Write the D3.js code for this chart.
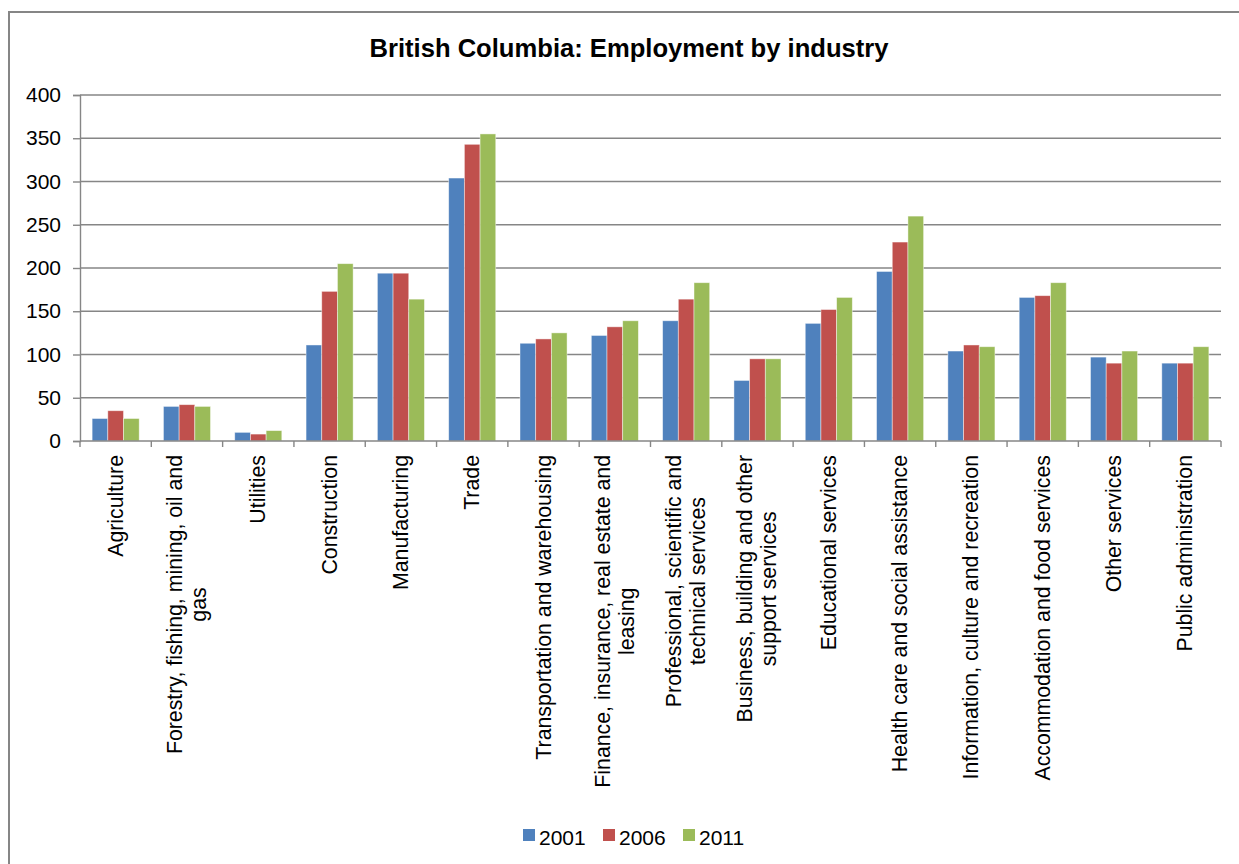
<!DOCTYPE html>
<html>
<head>
<meta charset="utf-8">
<script src="https://cdn.jsdelivr.net/npm/d3@7"></script>
<style>
  html, body { margin: 0; padding: 0; background: #fff; }
  svg { display: block; font-family: "Liberation Sans", Arial, sans-serif; }
</style>
</head>
<body>
<svg id="chart" width="1239" height="864"></svg>
<script>
// Industry categories (each entry is the list of wrapped label lines)
const categories = [
  ["Agriculture"],
  ["Forestry, fishing, mining, oil and", "gas"],
  ["Utilities"],
  ["Construction"],
  ["Manufacturing"],
  ["Trade"],
  ["Transportation and warehousing"],
  ["Finance, insurance, real estate and", "leasing"],
  ["Professional, scientific and", "technical services"],
  ["Business, building and other", "support services"],
  ["Educational services"],
  ["Health care and social assistance"],
  ["Information, culture and recreation"],
  ["Accommodation and food services"],
  ["Other services"],
  ["Public administration"]
];

const years = ["2001", "2006", "2011"];

// Employment (thousands) by year
const values2001 = [26, 40, 10, 111, 194, 304, 113, 122, 139, 70, 136, 196, 104, 166, 97, 90];
const values2006 = [35, 42, 8, 173, 194, 343, 118, 132, 164, 95, 152, 230, 111, 168, 90, 90];
const values2011 = [26, 40, 12, 205, 164, 355, 125, 139, 183, 95, 166, 260, 109, 183, 104, 109];

const yTicks = [0, 50, 100, 150, 200, 250, 300, 350, 400];
const colors = ["#4F81BD", "#C0504D", "#9BBB59"];

const series = [values2001, values2006, values2011];
const svg = d3.select("#chart");
const gridColor = "#868686";

const plotLeft = 80, plotRight = 1221, plotTop = 95, plotBottom = 441;

// Outer chart frame
svg.append("rect")
  .attr("x", 9).attr("y", 12)
  .attr("width", 1260).attr("height", 900)
  .attr("fill", "none").attr("stroke", gridColor).attr("stroke-width", 2);

// Title
svg.append("text")
  .attr("x", 629).attr("y", 57)
  .attr("text-anchor", "middle")
  .attr("font-size", 25.6).attr("font-weight", "bold")
  .attr("fill", "#000")
  .text("British Columbia: Employment by industry");

const x = d3.scaleBand()
  .domain(d3.range(categories.length))
  .range([plotLeft, plotRight])
  .paddingInner(0).paddingOuter(0);

const inner = d3.scaleBand()
  .domain(d3.range(years.length))
  .range([0, x.bandwidth() * 0.66]);

const y = d3.scaleLinear().domain([0, 400]).range([plotBottom, plotTop]);

// Horizontal gridlines
svg.append("g")
  .selectAll("line")
  .data(yTicks.filter(d => d > 0))
  .join("line")
  .attr("x1", plotLeft).attr("x2", plotRight)
  .attr("y1", d => y(d)).attr("y2", d => y(d))
  .attr("stroke", gridColor).attr("stroke-width", 1.4);

// Y axis
const yAxis = svg.append("g")
  .attr("transform", `translate(${plotLeft},0)`)
  .call(d3.axisLeft(y).tickValues(yTicks).tickSize(7).tickPadding(12).tickFormat(d3.format("d")));
yAxis.select(".domain").attr("stroke", gridColor).attr("stroke-width", 1.4);
yAxis.selectAll(".tick line").attr("stroke", gridColor).attr("stroke-width", 1.4);
yAxis.selectAll(".tick text")
  .attr("font-size", 21).attr("fill", "#000")
  .attr("font-family", "'Liberation Sans', Arial, sans-serif");

// Bars
const groupOffset = (x.bandwidth() - x.bandwidth() * 0.66) / 2;
series.forEach((vals, si) => {
  svg.append("g")
    .selectAll("rect")
    .data(vals)
    .join("rect")
    .attr("x", (d, i) => x(i) + groupOffset + inner(si))
    .attr("y", d => y(d))
    .attr("width", inner.bandwidth())
    .attr("height", d => y(0) - y(d))
    .attr("fill", colors[si])
    .attr("stroke", "#ffffff").attr("stroke-opacity", 0.55).attr("stroke-width", 0.8);
});

// X axis line and boundary tick marks
svg.append("line")
  .attr("x1", plotLeft).attr("x2", plotRight)
  .attr("y1", plotBottom).attr("y2", plotBottom)
  .attr("stroke", gridColor).attr("stroke-width", 1.4);
svg.append("g")
  .selectAll("line")
  .data(d3.range(categories.length + 1))
  .join("line")
  .attr("x1", i => plotLeft + i * x.step()).attr("x2", i => plotLeft + i * x.step())
  .attr("y1", plotBottom).attr("y2", plotBottom + 6)
  .attr("stroke", gridColor).attr("stroke-width", 1.4);

// Rotated category labels, multi-line labels centred line by line
const lineH = 24;
const labels = svg.append("g");
categories.forEach((lines, i) => {
  const g = labels.append("g")
    .attr("transform", `translate(${x(i) + x.bandwidth() / 2},455) rotate(-90)`);
  const texts = lines.map((t, li) => g.append("text")
    .attr("font-size", 21.3).attr("fill", "#000")
    .attr("dominant-baseline", "central")
    .attr("y", (li - (lines.length - 1) / 2) * lineH)
    .text(t));
  const maxW = d3.max(texts, t => t.node().getComputedTextLength());
  texts.forEach(t => t.attr("text-anchor", "middle").attr("x", -maxW / 2));
});

// Legend
const legendX = [523, 603, 683];
const legend = svg.append("g");
years.forEach((yr, i) => {
  legend.append("rect")
    .attr("x", legendX[i]).attr("y", 829)
    .attr("width", 12).attr("height", 12)
    .attr("fill", colors[i]);
  legend.append("text")
    .attr("x", legendX[i] + 16).attr("y", 845)
    .attr("font-size", 21).attr("fill", "#000")
    .text(yr);
});
</script>
</body>
</html>
